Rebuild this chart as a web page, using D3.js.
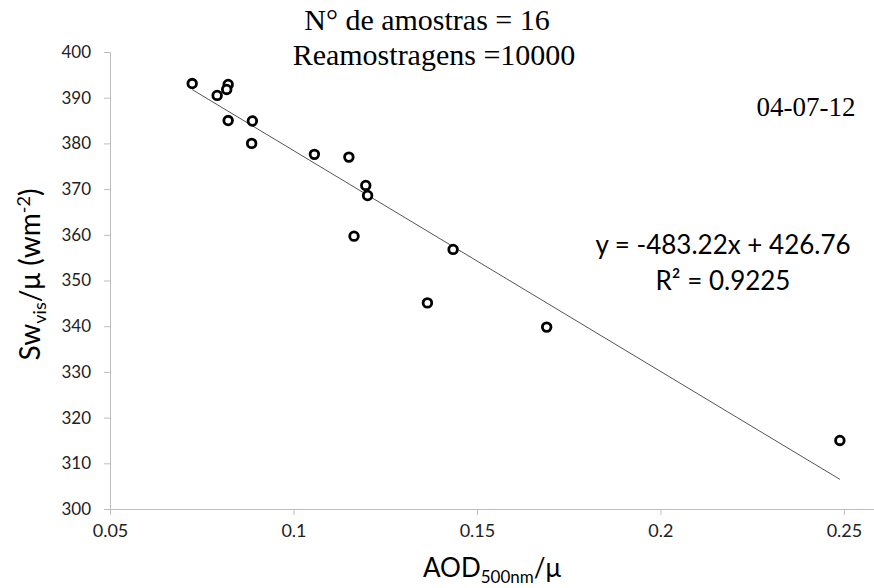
<!DOCTYPE html>
<html>
<head>
<meta charset="utf-8">
<script src="https://cdn.jsdelivr.net/npm/d3@7"></script>
<style>
  body { margin: 0; background: #fff; }
  svg { display: block; }
</style>
</head>
<body>
<div id="chart"></div>
<script>
// Data
const aod = [0.0724, 0.0792, 0.0822, 0.0818, 0.0822, 0.0888, 0.0886, 0.1057,
             0.1151, 0.1197, 0.1202, 0.1165, 0.1435, 0.1365, 0.1690, 0.2489];
const sw = [393.1, 390.5, 392.9, 391.8, 385.0, 384.9, 380.0, 377.6,
            377.0, 370.8, 368.6, 359.7, 356.8, 345.1, 339.8, 315.0];
const xTicks = [0.05, 0.1, 0.15, 0.2, 0.25];
const yTicks = [300, 310, 320, 330, 340, 350, 360, 370, 380, 390, 400];
const slope = -483.22, intercept = 426.76;

const W = 874, H = 588;
const margin = {top: 52, right: 0, bottom: 79, left: 110};

const svg = d3.select("#chart").append("svg")
    .attr("width", W)
    .attr("height", H);

// Scales
const x = d3.scaleLinear()
    .domain([0.05, 0.2582])
    .range([margin.left, W - margin.right]);
const y = d3.scaleLinear()
    .domain([300, 400])
    .range([H - margin.bottom, margin.top]);

const axisColor = "#bdbdbd";
const sans = "Lato, 'Open Sans', sans-serif";

// Y axis
const gy = svg.append("g")
    .attr("transform", `translate(${margin.left},0)`)
    .call(d3.axisLeft(y).tickValues(yTicks).tickSize(6).tickPadding(13).tickFormat(d3.format("d")));
gy.select(".domain").attr("stroke", axisColor);
gy.selectAll(".tick line").attr("stroke", axisColor);
gy.selectAll(".tick text")
    .attr("fill", "#222")
    .style("font-family", sans)
    .style("font-size", "17px");

// X axis
const gx = svg.append("g")
    .attr("transform", `translate(0,${H - margin.bottom})`)
    .call(d3.axisBottom(x).tickValues(xTicks).tickSize(6).tickPadding(9).tickFormat(d => String(d)));
gx.select(".domain").attr("stroke", axisColor);
gx.selectAll(".tick line").attr("stroke", axisColor);
gx.selectAll(".tick text")
    .attr("fill", "#222")
    .style("font-family", sans)
    .style("font-size", "18px");

// Trendline over the data range
const xExt = d3.extent(aod);
svg.append("line")
    .attr("x1", x(xExt[0]))
    .attr("y1", y(slope * xExt[0] + intercept))
    .attr("x2", x(xExt[1]))
    .attr("y2", y(slope * xExt[1] + intercept))
    .attr("stroke", "#555")
    .attr("stroke-width", 1);

// Points
svg.selectAll("circle.pt")
    .data(aod.map((d, i) => [d, sw[i]]))
    .join("circle")
    .attr("class", "pt")
    .attr("cx", d => x(d[0]))
    .attr("cy", d => y(d[1]))
    .attr("r", 4.3)
    .attr("fill", "#fff")
    .attr("stroke", "#000")
    .attr("stroke-width", 2.8);

// Titles (Times-like)
const serif = "'Liberation Serif', 'DejaVu Serif', serif";
svg.append("text")
    .attr("x", 427).attr("y", 30)
    .attr("text-anchor", "middle")
    .style("font-family", serif).style("font-size", "30px")
    .text("N° de amostras = 16");
svg.append("text")
    .attr("x", 434).attr("y", 65)
    .attr("text-anchor", "middle")
    .style("font-family", serif).style("font-size", "30px")
    .text("Reamostragens =10000");
svg.append("text")
    .attr("x", 806).attr("y", 116)
    .attr("text-anchor", "middle")
    .style("font-family", serif).style("font-size", "27px")
    .text("04-07-12");

// Equation
svg.append("text")
    .attr("x", 723).attr("y", 254)
    .attr("text-anchor", "middle")
    .style("font-family", sans).style("font-size", "26px")
    .text("y = -483.22x + 426.76");
svg.append("text")
    .attr("x", 723).attr("y", 290)
    .attr("text-anchor", "middle")
    .style("font-family", sans).style("font-size", "26px")
    .text("R² = 0.9225");

// X axis label, centred on the plot area
const xl = svg.append("text")
    .attr("x", (margin.left + W - margin.right) / 2).attr("y", 577)
    .attr("text-anchor", "middle")
    .style("font-family", sans).style("font-size", "26px");
xl.append("tspan").text("AOD");
xl.append("tspan").attr("dy", 6).style("font-size", "17px").text("500nm");
xl.append("tspan").attr("dy", -6).text("/μ");

// Y axis label
const yl = svg.append("text")
    .attr("transform", `translate(40,${(margin.top + H - margin.bottom) / 2 - 6}) rotate(-90)`)
    .attr("text-anchor", "middle")
    .style("font-family", sans).style("font-size", "28px");
yl.append("tspan").text("Sw");
yl.append("tspan").attr("dy", 6).style("font-size", "18px").text("vis");
yl.append("tspan").attr("dy", -6).text("/μ (wm");
yl.append("tspan").attr("dy", -10).style("font-size", "18px").text("-2");
yl.append("tspan").attr("dy", 10).text(")");
</script>
</body>
</html>
